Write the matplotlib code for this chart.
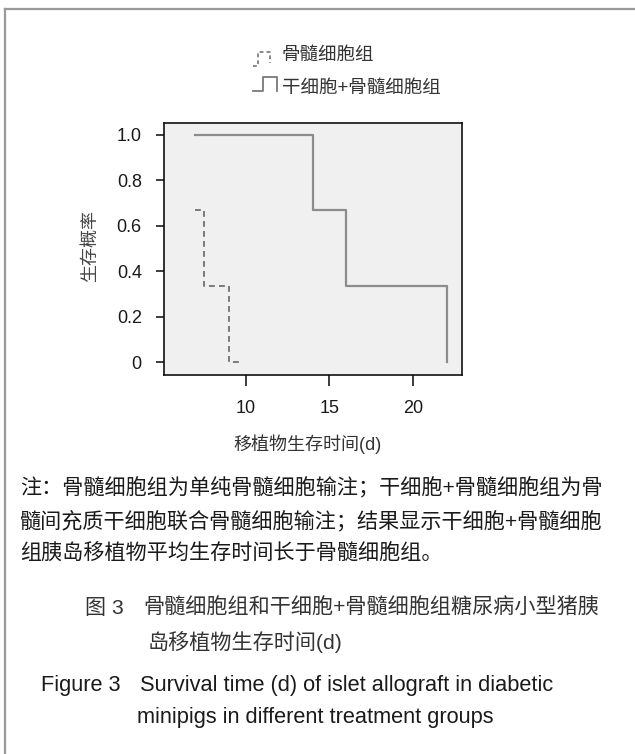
import matplotlib
matplotlib.use("Agg")
import matplotlib.pyplot as plt
from matplotlib.lines import Line2D

# fonts: Arial-like latin, CJK falls back to Noto
plt.rcParams['font.family'] = ['Liberation Sans', 'Noto Sans CJK SC', 'DejaVu Sans']

# survival data (Kaplan-Meier steps)
bm_days = [7, 7.5, 9, 9.8]
bm_surv = [0.667, 0.333, 0.0, 0.0]
sc_days = [7, 14, 16, 22, 22]
sc_surv = [1.0, 0.667, 0.333, 0.333, 0.0]

legend_labels = ["骨髓细胞组", "干细胞+骨髓细胞组"]
xticks = [10, 15, 20]
yticks = [0, 0.2, 0.4, 0.6, 0.8, 1.0]
ytick_labels = ["0", "0.2", "0.4", "0.6", "0.8", "1.0"]

note_lines = [
    "注：骨髓细胞组为单纯骨髓细胞输注；干细胞+骨髓细胞组为骨",
    "髓间充质干细胞联合骨髓细胞输注；结果显示干细胞+骨髓细胞",
    "组胰岛移植物平均生存时间长于骨髓细胞组。",
]

W, H = 635, 754
fig = plt.figure(figsize=(W / 100, H / 100), dpi=100)


def px(x, y):
    # pixel position (top-left origin) -> figure fraction
    return x / W, 1 - y / H


txt_col = "#1a1a1a"

# axes box
l, t = px(164, 123)
r, b = px(462, 375)
ax = fig.add_axes([l, b, r - l, t - b])
ax.set_facecolor("#f0f0f0")

ax.plot(sc_days, sc_surv, drawstyle="steps-post", color="#8c8c8c", lw=1.6)
ax.plot(bm_days, bm_surv, drawstyle="steps-post", color="#666666", lw=1.2,
        linestyle=(0, (3.5, 2.5)))

ax.set_xlim(5.12, 22.91)
ax.set_ylim(-0.056, 1.051)
ax.set_xticks(xticks)
ax.set_xticklabels([str(v) for v in xticks])
ax.set_yticks(yticks)
ax.set_yticklabels(ytick_labels)
ax.tick_params(axis="y", length=6, width=1.2, pad=10, labelsize=13, colors=txt_col)
ax.tick_params(axis="x", length=8, width=1.2, pad=10, labelsize=13, colors=txt_col)
for s in ax.spines.values():
    s.set_linewidth(1.2)
    s.set_color("#111111")

# axis labels placed in pixel space
fig.text(*px(307, 444), "移植物生存时间(d)", ha="center", va="center",
         fontsize=13, color="#333333")
fig.text(*px(90, 246), "生存概率", ha="center", va="center", rotation=90,
         fontsize=13, color="#444444")

# legend with little step symbols
dash = dict(color="#6a6a6a", lw=1.1, linestyle=(0, (2.5, 2)))
solid = dict(color="#7a7a7a", lw=1.3)
xs1 = [253, 258, 258, 270, 270]
ys1 = [66, 66, 52, 52, 63]
fig.add_artist(Line2D([px(x, 0)[0] for x in xs1], [px(0, y)[1] for y in ys1],
                      transform=fig.transFigure, **dash))
xs2 = [253, 263, 263, 277, 277]
ys2 = [91, 91, 77, 77, 91]
fig.add_artist(Line2D([px(x, 0)[0] for x in xs2], [px(0, y)[1] for y in ys2],
                      transform=fig.transFigure, **solid))
fig.text(*px(282, 55), legend_labels[0], ha="left", va="center",
         fontsize=13.3, color="#333333")
fig.text(*px(282, 88), legend_labels[1], ha="left", va="center",
         fontsize=13.3, color="#333333")

# note text
for i, line in enumerate(note_lines):
    fig.text(*px(20, 488 + i * 32.5), line, ha="left", va="center",
             fontsize=15.2, color=txt_col)

# captions
fig.text(*px(85, 608), "图 3", ha="left", va="center", fontsize=15.2, color="#333333")
fig.text(*px(143, 608), "骨髓细胞组和干细胞+骨髓细胞组糖尿病小型猪胰", ha="left",
         va="center", fontsize=15.2, color="#333333")
fig.text(*px(148, 642), "岛移植物生存时间(d)", ha="left", va="center",
         fontsize=15.2, color="#333333")
fig.text(*px(41, 685), "Figure 3", ha="left", va="center", fontsize=15.7, color=txt_col)
fig.text(*px(140, 685), "Survival time (d) of islet allograft in diabetic", ha="left",
         va="center", fontsize=15.7, color=txt_col)
fig.text(*px(137, 718), "minipigs in different treatment groups", ha="left",
         va="center", fontsize=15.7, color=txt_col)

# outer frame lines (left and top only)
fig.add_artist(Line2D([px(5, 0)[0]] * 2, [px(0, 9)[1], 0], transform=fig.transFigure,
                      color="#999999", lw=1.6))
fig.add_artist(Line2D([px(5, 0)[0], 1], [px(0, 9)[1]] * 2, transform=fig.transFigure,
                      color="#999999", lw=1.6))

fig.savefig("out.png", dpi=100)
